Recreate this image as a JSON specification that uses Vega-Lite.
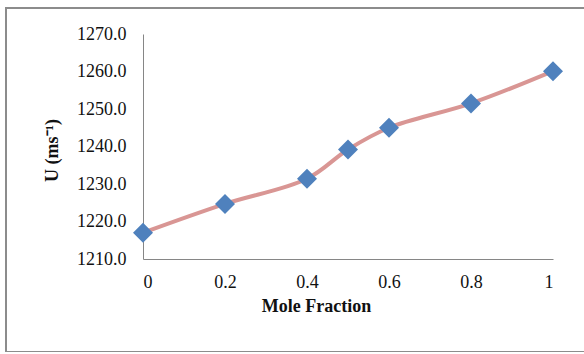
{
  "$schema": "https://vega.github.io/schema/vega-lite/v6.json",
  "autosize": {"type": "none"},
  "padding": {"left": 6, "top": 8, "right": 0, "bottom": 0},
  "width": 584,
  "height": 344,
  "background": "white",
  "config": {
    "view": {"stroke": "#8c8c8c", "strokeWidth": 2},
    "font": "Liberation Serif"
  },
  "data": {
    "values": [
      {"x": 0, "u": 1217.0},
      {"x": 0.2, "u": 1224.7},
      {"x": 0.4, "u": 1231.4},
      {"x": 0.5, "u": 1239.2},
      {"x": 0.6, "u": 1245.0},
      {"x": 0.8, "u": 1251.5},
      {"x": 1, "u": 1260.1}
    ]
  },
  "encoding": {
    "x": {
      "field": "x",
      "type": "quantitative",
      "scale": {"domain": [0, 1], "range": [137, 547], "nice": false, "zero": false},
      "axis": {
        "values": [0, 0.2, 0.4, 0.6, 0.8, 1],
        "format": "~g",
        "offset": -93,
        "grid": false,
        "ticks": false,
        "domainColor": "#868686",
        "domainWidth": 1,
        "labelFont": "Liberation Serif",
        "labelFontSize": 18,
        "labelColor": "#111",
        "labelPadding": 14,
        "title": "Mole Fraction",
        "titleFont": "Liberation Serif",
        "titleFontSize": 18,
        "titleFontWeight": "bold",
        "titleColor": "#111",
        "titleX": 310,
        "titleY": 47,
        "titleBaseline": "middle",
        "titleAnchor": null
      }
    },
    "y": {
      "field": "u",
      "type": "quantitative",
      "scale": {"domain": [1210, 1270], "range": [251, 26], "nice": false, "zero": false},
      "axis": {
        "values": [1210, 1220, 1230, 1240, 1250, 1260, 1270],
        "format": ".1f",
        "offset": -137,
        "grid": false,
        "ticks": false,
        "domainColor": "#868686",
        "domainWidth": 1,
        "labelFont": "Liberation Serif",
        "labelFontSize": 18,
        "labelColor": "#111",
        "labelPadding": 17,
        "title": "U (ms⁻¹)",
        "titleFont": "Liberation Serif",
        "titleFontSize": 18,
        "titleFontWeight": "bold",
        "titleColor": "#111",
        "titleX": -91,
        "titleY": 142,
        "titleAngle": -90,
        "titleBaseline": "middle",
        "titleAlign": "center"
      }
    }
  },
  "layer": [
    {
      "mark": {"type": "line", "interpolate": "catmull-rom", "stroke": "#d99694", "strokeWidth": 4}
    },
    {
      "mark": {"type": "point", "shape": "diamond", "size": 400, "filled": true, "fill": "#4f81bd", "opacity": 1, "strokeWidth": 0}
    }
  ]
}
